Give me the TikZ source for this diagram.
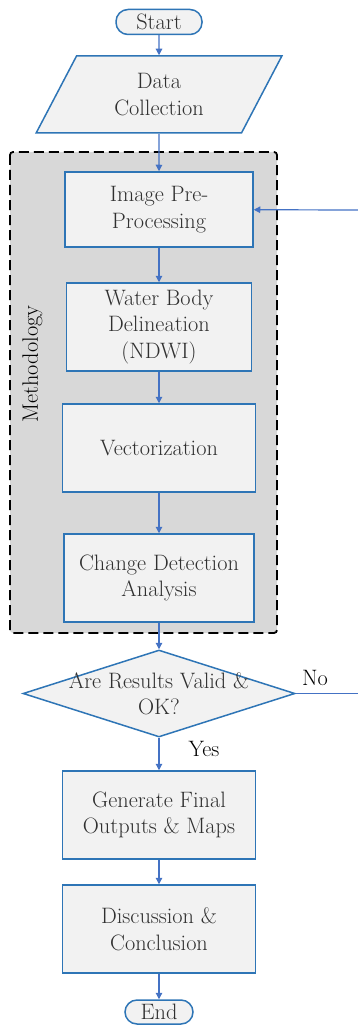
\documentclass[tikz,border=0pt]{standalone}
\usetikzlibrary{shapes.geometric,arrows.meta}
\definecolor{boxline}{RGB}{46,117,182}
\definecolor{arrline}{RGB}{68,114,196}
\definecolor{boxfill}{RGB}{242,242,242}
\definecolor{grayfill}{RGB}{216,216,216}
\definecolor{txt}{RGB}{48,48,48}
\tikzset{
  base/.style={draw=boxline, fill=boxfill, line width=1.5pt, text=txt, align=center, inner sep=0pt,
    font=\rmfamily\fontsize{22.3}{26.5}\selectfont},
  procbox/.style={base, rectangle, minimum width=#1, minimum height=88pt},
  termbox/.style={base, rectangle, rounded corners=12pt, minimum height=25pt},
  arr/.style={draw=arrline, line width=1.2pt, -{Triangle[length=6.5pt,width=6.5pt]}},
  plainline/.style={draw=arrline, line width=1.2pt},
  lbl/.style={text=black, inner sep=0pt, font=\rmfamily\fontsize{22.3}{26.5}\selectfont},
  methbox/.style={draw=black, fill=grayfill, line width=1.8pt, dash pattern=on 10pt off 5pt, rounded corners=3pt}
}
\begin{document}
\begin{tikzpicture}[x=1pt,y=-1pt]
\useasboundingbox (0,0) rectangle (358,1027);
% methodology background
\draw[methbox] (10,152) rectangle (277,633);
\node[lbl, rotate=90] (ml) at (32.5,364) {Methodology};
% nodes
\node[termbox, minimum width=86pt] (start) at (159,22) {Start};
\node[base, trapezium, trapezium left angle=62.5, trapezium right angle=117.5,
      trapezium stretches=true, minimum width=246pt, minimum height=77pt] (dc) at (159,94.5) {Data\\Collection};
\node[procbox=188pt, minimum height=75pt] (img) at (159,209.5) {Image Pre-\\Processing};
\node[procbox=185pt] (wb) at (159,327) {Water Body\\Delineation\\(NDWI)};
\node[procbox=193pt] (vec) at (159,448) {Vectorization};
\node[procbox=190pt] (cd) at (159,578) {Change Detection\\Analysis};
\node[base, diamond, minimum width=272pt, minimum height=87pt] (q) at (159,693.5) {};
\node[lbl, text=txt, align=center] (qt) at (159,694) {Are Results Valid \&\\OK?};
\node[procbox=193pt] (gen) at (159,815) {Generate Final\\Outputs \& Maps};
\node[procbox=193pt] (dis) at (159,929) {Discussion \&\\Conclusion};
\node[termbox, minimum width=68pt, minimum height=24pt] (end) at (159,1012) {End};
% labels
\node[lbl, anchor=base] (no) at (315,685) {No};
\node[lbl, anchor=base] (yes) at (204,756) {Yes};
% side coordinates
\coordinate (rin) at (358,210);
\coordinate (rout) at (358,693.5);
% connectors
\draw[arr] (start) -- (dc);
\draw[arr] (dc) -- (img);
\draw[arr] (img) -- (wb);
\draw[arr] (wb) -- (vec);
\draw[arr] (vec) -- (cd);
\draw[arr] (cd) -- (q);
\draw[arr] (q) -- (gen);
\draw[arr] (gen) -- (dis);
\draw[arr] (dis) -- (end);
\draw[arr] (rin) -- (img);
\draw[plainline] (q.east) -- (rout);
\end{tikzpicture}
\end{document}
